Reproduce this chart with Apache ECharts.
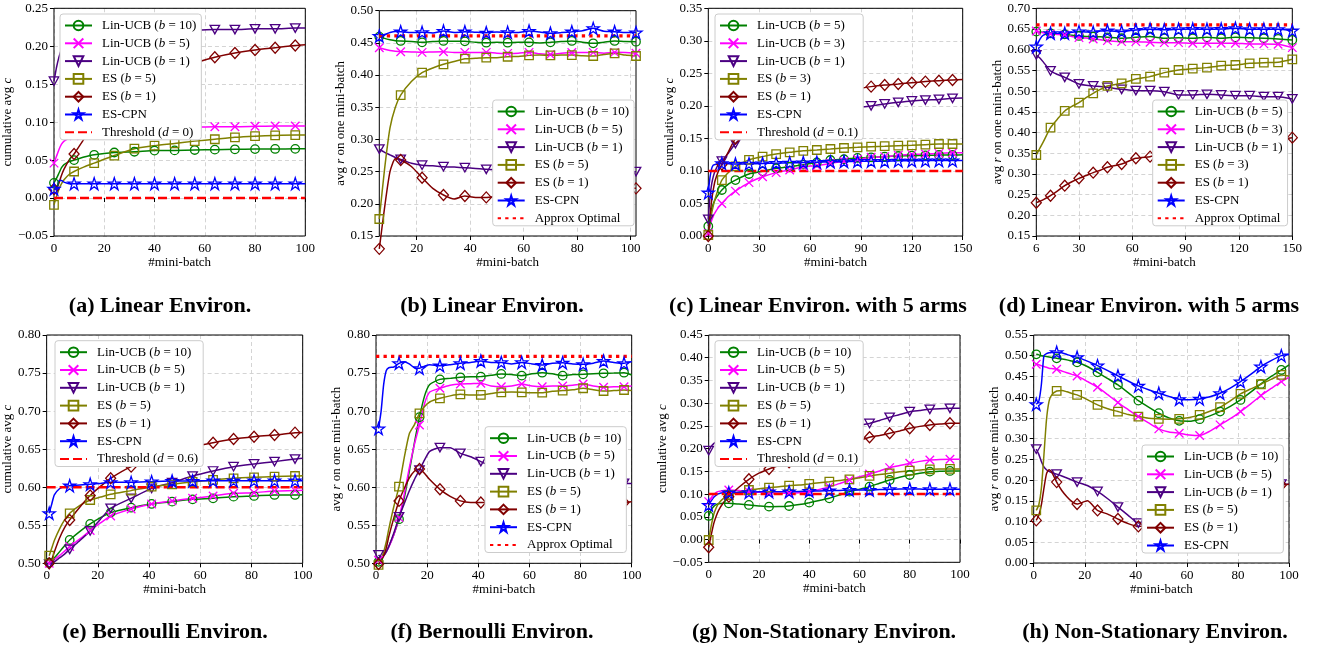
<!DOCTYPE html>
<html><head><meta charset="utf-8">
<script src="https://cdn.jsdelivr.net/npm/echarts@6/dist/echarts.min.js"></script>
<style>html,body{margin:0;padding:0;background:#fff}#c{width:1317px;height:649px}</style>
</head><body><div id="c"></div><script>
// ---------- DATA ----------
const A_X = [0,1,2,3,4,6,8,12,16,24,32,40,48,56,64,72,80,88,96,100];
const A_LIN10 = [0.020,0.026,0.033,0.040,0.044,0.048,0.050,0.054,0.057,0.060,0.061,0.0625,0.0628,0.0633,0.0638,0.0642,0.0645,0.0647,0.0648,0.0648];
const A_LIN5 = [0.046,0.055,0.064,0.071,0.075,0.079,0.082,0.086,0.088,0.090,0.0915,0.0925,0.093,0.0935,0.094,0.094,0.0945,0.095,0.095,0.095];
const A_LIN1 = [0.154,0.172,0.186,0.196,0.202,0.208,0.211,0.214,0.216,0.218,0.219,0.220,0.2205,0.221,0.222,0.222,0.223,0.223,0.224,0.224];
const A_ES5 = [-0.009,0.002,0.012,0.019,0.024,0.031,0.035,0.041,0.046,0.056,0.065,0.069,0.072,0.075,0.0775,0.080,0.0815,0.0825,0.083,0.083];
const A_ES1 = [0.012,0.012,0.020,0.030,0.038,0.050,0.058,0.078,0.095,0.122,0.142,0.157,0.169,0.178,0.1855,0.191,0.195,0.198,0.201,0.202];
const A_CPN = [0.012,0.012,0.023,0.023,0.021,0.019,0.019,0.019,0.019,0.019,0.019,0.019,0.019,0.019,0.019,0.019,0.019,0.019,0.019,0.019];
const A_THR = 0;

const B_X = [6,8,10,12,14,18,22,26,30,34,38,42,46,50,54,58,62,66,70,74,78,82,86,90,94,98,102];
const B_LIN10 = [0.4597,0.457,0.455,0.4535,0.453,0.452,0.4508,0.452,0.453,0.4525,0.4524,0.451,0.4503,0.451,0.4503,0.451,0.4508,0.450,0.4508,0.452,0.453,0.451,0.4493,0.451,0.453,0.452,0.4519];
const B_LIN5 = [0.4425,0.440,0.438,0.437,0.4363,0.436,0.4353,0.436,0.4363,0.435,0.4353,0.435,0.4353,0.434,0.4337,0.434,0.4353,0.433,0.432,0.434,0.435,0.435,0.4353,0.434,0.4353,0.435,0.434];
const B_LIN1 = [0.285,0.280,0.276,0.272,0.269,0.263,0.260,0.259,0.2577,0.257,0.2561,0.255,0.2536,0.253,0.2525,0.252,0.252,0.2515,0.251,0.251,0.2505,0.2505,0.250,0.250,0.250,0.250,0.250];
const B_ES5 = [0.1764,0.255,0.318,0.350,0.369,0.390,0.4037,0.411,0.4167,0.421,0.4254,0.426,0.427,0.427,0.4285,0.429,0.4306,0.431,0.4306,0.431,0.4311,0.430,0.4296,0.432,0.4337,0.431,0.4296];
const B_ES1 = [0.130,0.195,0.250,0.270,0.268,0.258,0.2406,0.224,0.2137,0.2075,0.2121,0.210,0.210,0.212,0.214,0.215,0.216,0.218,0.219,0.220,0.221,0.222,0.222,0.223,0.223,0.224,0.224];
const B_CPN = [0.4607,0.463,0.466,0.4675,0.4674,0.466,0.4664,0.4655,0.4684,0.466,0.4674,0.4665,0.4658,0.467,0.4664,0.466,0.4684,0.467,0.465,0.466,0.4674,0.469,0.4726,0.468,0.4674,0.466,0.466];
const B_OPT = 0.461;

const C_X = [0,1,2,3,4,6,8,12,16,24,32,40,48,56,64,72,80,88,96,104,112,120,128,136,144,150];
const C_LIN5 = [0.015,0.030,0.042,0.050,0.056,0.064,0.0707,0.080,0.086,0.0953,0.0994,0.104,0.1066,0.1097,0.113,0.1168,0.118,0.120,0.121,0.122,0.123,0.1235,0.124,0.1245,0.1245,0.125];
const C_LIN3 = [0.004,0.015,0.024,0.031,0.036,0.044,0.050,0.061,0.069,0.082,0.091,0.0974,0.1015,0.1066,0.108,0.1117,0.115,0.118,0.121,0.122,0.124,0.1255,0.126,0.127,0.128,0.128];
const C_LIN1 = [0.0256,0.060,0.080,0.092,0.100,0.110,0.115,0.128,0.142,0.160,0.170,0.177,0.183,0.188,0.191,0.194,0.196,0.198,0.200,0.203,0.2055,0.2076,0.209,0.210,0.2117,0.212];
const C_ES3 = [0.0015,0.020,0.035,0.047,0.057,0.073,0.086,0.098,0.107,0.117,0.122,0.126,0.1286,0.131,0.1322,0.1337,0.1353,0.1363,0.1373,0.138,0.1389,0.1394,0.1404,0.1414,0.1414,0.1415];
const C_ES1 = [0.000,0.030,0.055,0.072,0.085,0.100,0.110,0.130,0.150,0.168,0.182,0.192,0.200,0.207,0.213,0.218,0.222,0.226,0.2296,0.2321,0.2337,0.2357,0.2373,0.2388,0.2398,0.2405];
const C_CPN = [0.0666,0.090,0.104,0.109,0.110,0.111,0.1117,0.111,0.1107,0.111,0.1115,0.112,0.1125,0.113,0.1135,0.114,0.1145,0.115,0.115,0.115,0.1155,0.1155,0.116,0.116,0.116,0.116];
const C_THR = 0.1;

const D_X = [6,8,10,14,18,22,26,30,34,38,42,46,54,62,70,78,86,94,102,110,118,126,134,142,150];
const D_LIN5 = [0.6437,0.643,0.642,0.6396,0.638,0.6372,0.635,0.6332,0.632,0.6316,0.631,0.630,0.6276,0.630,0.6316,0.6276,0.629,0.6276,0.630,0.6276,0.630,0.629,0.6276,0.626,0.6235];
const D_LIN3 = [0.6453,0.643,0.641,0.638,0.637,0.6356,0.632,0.6292,0.628,0.626,0.624,0.622,0.6195,0.6195,0.618,0.617,0.617,0.6155,0.6155,0.6155,0.6155,0.614,0.614,0.613,0.605];
const D_LIN1 = [0.5873,0.580,0.570,0.5486,0.540,0.5333,0.525,0.5172,0.514,0.5124,0.511,0.5092,0.5043,0.5011,0.5011,0.4987,0.4907,0.4907,0.4923,0.4907,0.489,0.489,0.4866,0.4866,0.481];
const D_ES3 = [0.3457,0.362,0.378,0.4117,0.433,0.452,0.463,0.472,0.484,0.4947,0.504,0.5124,0.5188,0.5293,0.535,0.5446,0.551,0.5542,0.5567,0.5615,0.5631,0.5671,0.5687,0.5695,0.5768];
const D_ES1 = [0.2305,0.234,0.238,0.2474,0.259,0.2716,0.281,0.2893,0.296,0.303,0.309,0.3159,0.324,0.3376,0.3417,0.348,0.354,0.358,0.362,0.366,0.371,0.375,0.379,0.383,0.3876];
const D_CPN = [0.6074,0.625,0.635,0.6396,0.640,0.6396,0.642,0.6437,0.643,0.642,0.645,0.646,0.6437,0.6477,0.6493,0.648,0.6493,0.650,0.6493,0.650,0.6517,0.6493,0.6493,0.6493,0.646];
const D_OPT = 0.66;

const E_X = [1,2,3,5,7,9,13,17,21,25,33,41,49,57,65,73,81,89,97,100];
const E_LIN10 = [0.501,0.503,0.507,0.515,0.523,0.5307,0.542,0.5517,0.560,0.5666,0.5731,0.578,0.581,0.584,0.5854,0.5876,0.5885,0.5898,0.5898,0.590];
const E_LIN5 = [0.500,0.502,0.505,0.510,0.516,0.522,0.532,0.543,0.553,0.5622,0.5714,0.578,0.582,0.5854,0.5885,0.592,0.5928,0.595,0.5955,0.596];
const E_LIN1 = [0.499,0.500,0.502,0.507,0.512,0.5184,0.530,0.5425,0.558,0.5723,0.5854,0.5985,0.606,0.6147,0.6213,0.627,0.6305,0.6336,0.637,0.638];
const E_ES5 = [0.510,0.520,0.530,0.545,0.557,0.5657,0.576,0.5832,0.587,0.5906,0.5955,0.6007,0.6038,0.607,0.6095,0.6117,0.613,0.6139,0.6147,0.615];
const E_ES1 = [0.500,0.505,0.515,0.533,0.547,0.557,0.574,0.589,0.601,0.6117,0.627,0.637,0.645,0.653,0.6585,0.6634,0.6664,0.6686,0.6717,0.672];
const E_CPN = [0.5657,0.578,0.590,0.598,0.601,0.602,0.603,0.6038,0.605,0.6064,0.6064,0.6073,0.6082,0.6082,0.6086,0.6086,0.6086,0.6086,0.6086,0.6086];
const E_THR = 0.6;

const F_X = [1,2,3,4,5,7,9,11,13,15,17,19,21,25,29,33,37,41,45,49,53,57,61,65,69,73,77,81,85,89,93,97,100];
const F_LIN10 = [0.502,0.505,0.510,0.515,0.522,0.538,0.558,0.585,0.620,0.658,0.692,0.720,0.735,0.7417,0.743,0.7444,0.745,0.7453,0.747,0.7488,0.748,0.7466,0.749,0.7505,0.749,0.7466,0.748,0.7483,0.749,0.7497,0.750,0.7505,0.7475];
const F_LIN5 = [0.504,0.506,0.510,0.515,0.521,0.538,0.560,0.590,0.625,0.656,0.6817,0.710,0.725,0.730,0.734,0.7356,0.736,0.7365,0.733,0.7321,0.733,0.7356,0.733,0.7321,0.733,0.733,0.734,0.7356,0.733,0.7313,0.732,0.7321,0.733];
const F_LIN1 = [0.511,0.508,0.510,0.515,0.522,0.540,0.561,0.578,0.595,0.610,0.6226,0.636,0.647,0.652,0.652,0.6445,0.640,0.6336,0.628,0.624,0.620,0.617,0.614,0.612,0.611,0.610,0.609,0.608,0.607,0.606,0.605,0.605,0.605];
const F_ES5 = [0.498,0.505,0.515,0.528,0.545,0.575,0.6007,0.638,0.670,0.682,0.697,0.706,0.712,0.7168,0.720,0.722,0.721,0.7212,0.723,0.7247,0.725,0.7247,0.724,0.7242,0.726,0.727,0.728,0.730,0.728,0.7264,0.727,0.7277,0.727];
const F_ES1 = [0.499,0.503,0.510,0.520,0.535,0.560,0.582,0.598,0.612,0.621,0.624,0.618,0.610,0.5972,0.588,0.582,0.580,0.580,0.580,0.580,0.580,0.580,0.580,0.580,0.580,0.580,0.580,0.580,0.580,0.580,0.580,0.580,0.581];
const F_CPN = [0.677,0.700,0.735,0.753,0.757,0.758,0.7628,0.765,0.762,0.757,0.7562,0.759,0.761,0.7597,0.761,0.7628,0.764,0.7658,0.764,0.764,0.762,0.764,0.762,0.7606,0.763,0.7636,0.762,0.7615,0.763,0.7658,0.764,0.7628,0.765];
const F_OPT = 0.772;

const G_X = [0,1,2,3,4,6,8,12,16,20,24,28,32,36,40,44,48,52,56,60,64,68,72,76,80,84,88,92,96,100];
const G_LIN10 = [0.052,0.065,0.073,0.077,0.079,0.080,0.0798,0.078,0.0761,0.074,0.0724,0.0725,0.0739,0.077,0.0812,0.086,0.0908,0.098,0.1054,0.111,0.1164,0.124,0.1311,0.137,0.142,0.146,0.1494,0.1505,0.1509,0.151];
const G_LIN5 = [0.0834,0.092,0.099,0.104,0.106,0.108,0.109,0.108,0.1054,0.104,0.1032,0.102,0.1018,0.103,0.1054,0.110,0.1164,0.123,0.1311,0.138,0.1443,0.151,0.1582,0.163,0.1677,0.172,0.175,0.176,0.1765,0.1765];
const G_LIN1 = [0.1956,0.205,0.211,0.215,0.217,0.219,0.220,0.222,0.224,0.226,0.228,0.230,0.232,0.234,0.237,0.240,0.243,0.246,0.249,0.252,0.2555,0.262,0.269,0.275,0.2814,0.284,0.2865,0.288,0.2887,0.2887];
const G_ES5 = [-0.001,0.030,0.055,0.070,0.080,0.091,0.098,0.104,0.109,0.112,0.1142,0.116,0.1186,0.120,0.1223,0.125,0.1274,0.130,0.1326,0.136,0.1399,0.143,0.1457,0.149,0.1516,0.153,0.1545,0.155,0.1553,0.1555];
const G_ES1 = [-0.017,0.010,0.035,0.052,0.065,0.082,0.0944,0.115,0.1326,0.146,0.1553,0.163,0.170,0.178,0.185,0.192,0.198,0.205,0.212,0.218,0.225,0.229,0.2337,0.239,0.2447,0.249,0.252,0.254,0.2557,0.2557];
const G_CPN = [0.076,0.085,0.093,0.098,0.101,0.103,0.1032,0.104,0.104,0.105,0.1054,0.1054,0.1054,0.106,0.1069,0.107,0.1076,0.108,0.109,0.109,0.109,0.110,0.1106,0.111,0.1113,0.111,0.1106,0.1106,0.1106,0.1106];
const G_THR = 0.1;

const H_X = [1,2,3,4,5,6,7,9,11,13,15,17,21,25,29,33,37,41,45,49,53,57,61,65,69,73,77,81,85,89,93,97,100];
const H_LIN10 = [0.5034,0.502,0.500,0.499,0.498,0.497,0.496,0.4938,0.492,0.490,0.487,0.4842,0.474,0.460,0.445,0.4296,0.411,0.3918,0.376,0.3613,0.350,0.3429,0.342,0.3469,0.355,0.3653,0.378,0.3934,0.412,0.432,0.450,0.4657,0.4778];
const H_LIN5 = [0.4794,0.478,0.476,0.474,0.472,0.470,0.469,0.4673,0.463,0.459,0.455,0.4513,0.438,0.424,0.406,0.387,0.370,0.3533,0.338,0.3236,0.316,0.3131,0.309,0.3075,0.318,0.3332,0.348,0.3653,0.384,0.4039,0.421,0.4376,0.448];
const H_LIN1 = [0.2746,0.262,0.245,0.232,0.225,0.221,0.218,0.2144,0.210,0.205,0.200,0.1951,0.187,0.1726,0.155,0.1349,0.115,0.0964,0.100,0.110,0.120,0.130,0.140,0.150,0.158,0.165,0.171,0.177,0.181,0.185,0.188,0.190,0.190];
const H_ES5 = [0.1269,0.140,0.180,0.260,0.345,0.390,0.405,0.415,0.416,0.413,0.409,0.4055,0.394,0.3814,0.372,0.3653,0.358,0.3533,0.349,0.3477,0.347,0.3477,0.351,0.3573,0.366,0.3758,0.391,0.4079,0.420,0.4312,0.443,0.4537,0.451];
const H_ES1 = [0.1028,0.115,0.140,0.180,0.215,0.225,0.220,0.1951,0.175,0.160,0.148,0.1421,0.150,0.1269,0.118,0.106,0.095,0.0883,0.092,0.100,0.108,0.116,0.124,0.132,0.140,0.148,0.156,0.164,0.172,0.178,0.184,0.188,0.190];
const H_CPN = [0.383,0.390,0.430,0.500,0.505,0.507,0.508,0.5083,0.507,0.503,0.499,0.4962,0.487,0.4762,0.464,0.4513,0.439,0.4272,0.418,0.4095,0.402,0.395,0.394,0.3958,0.401,0.4095,0.422,0.4376,0.455,0.4737,0.488,0.5002,0.503];

const B_XTICKS = [20,40,60,80,100];
const D_XTICKS = [6,30,60,90,120,150];
const CAPTIONS = ['(a) Linear Environ.','(b) Linear Environ.','(c) Linear Environ. with 5 arms','(d) Linear Environ. with 5 arms',
                  '(e) Bernoulli Environ.','(f) Bernoulli Environ.','(g) Non-Stationary Environ.','(h) Non-Stationary Environ.'];

// ---------- STYLE / LAYOUT ----------
const STAR = 'path://M50,0L61.2,34.5L97.6,34.5L68.2,55.9L79.4,90.5L50,69.1L20.6,90.5L31.8,55.9L2.4,34.5L38.8,34.5Z';
const STY = [
  {color:'#008000', symbol:'circle', size:8.5},
  {color:'#ff00ff', symbol:'path://M0,0L10,10M10,0L0,10', size:8.5},
  {color:'#4b0082', symbol:'path://M0,0L10,0L5,8.66Z', size:[9.5,8.5]},
  {color:'#808000', symbol:'rect', size:8.5},
  {color:'#800000', symbol:'diamond', size:[10,11]},
  {color:'#0000ff', symbol:STAR, size:12},
  {color:'#ff0000', dash:[9,4], width:2.5},
  {color:'#ff0000', dash:[3.3,4.2], width:3.3}
];
const CR = 'c', RR = 'r';
const PANELS = [
 {key:'a', grid:[52.7,8.3,252.6,227.7], xr:[0,100], xint:20, yr:[-0.05,0.25], yvar:CR, xs:A_X, off:0, leg:[60,14], ygap:25, xgap:19,
  series:[['Lin-UCB (b = 10)',A_LIN10,0],['Lin-UCB (b = 5)',A_LIN5,1],['Lin-UCB (b = 1)',A_LIN1,2],['ES (b = 5)',A_ES5,3],['ES (b = 1)',A_ES1,4],['ES-CPN',A_CPN,5],['Threshold (d = 0)',A_THR,6]]},
 {key:'b', grid:[379.3,10.7,256.7,225.3], xr:[6,102], xticks:B_XTICKS, yr:[0.15,0.50], yvar:RR, xs:B_X, off:6, leg:[492.7,100], ygap:25.5, xgap:19,
  series:[['Lin-UCB (b = 10)',B_LIN10,0],['Lin-UCB (b = 5)',B_LIN5,1],['Lin-UCB (b = 1)',B_LIN1,2],['ES (b = 5)',B_ES5,3],['ES (b = 1)',B_ES1,4],['ES-CPN',B_CPN,5],['Approx Optimal',B_OPT,7]]},
 {key:'c', grid:[708.3,8.3,254.4,227.7], xr:[0,150], xint:30, yr:[0,0.35], yvar:CR, xs:C_X, off:0, leg:[715,14], ygap:24, xgap:19,
  series:[['Lin-UCB (b = 5)',C_LIN5,0],['Lin-UCB (b = 3)',C_LIN3,1],['Lin-UCB (b = 1)',C_LIN1,2],['ES (b = 3)',C_ES3,3],['ES (b = 1)',C_ES1,4],['ES-CPN',C_CPN,5],['Threshold (d = 0.1)',C_THR,6]]},
 {key:'d', grid:[1036.3,8.3,256,227.7], xr:[6,150], xticks:D_XTICKS, yr:[0.15,0.70], yvar:RR, xs:D_X, off:6, leg:[1152.7,100], ygap:25, xgap:19,
  series:[['Lin-UCB (b = 5)',D_LIN5,0],['Lin-UCB (b = 3)',D_LIN3,1],['Lin-UCB (b = 1)',D_LIN1,2],['ES (b = 3)',D_ES3,3],['ES (b = 1)',D_ES1,4],['ES-CPN',D_CPN,5],['Approx Optimal',D_OPT,7]]},
 {key:'e', grid:[46,335,256.7,228.3], xr:[0,100], xint:20, yr:[0.50,0.80], yvar:CR, xs:E_X, off:1, leg:[55,340.7], ygap:24.5, xgap:17,
  series:[['Lin-UCB (b = 10)',E_LIN10,0],['Lin-UCB (b = 5)',E_LIN5,1],['Lin-UCB (b = 1)',E_LIN1,2],['ES (b = 5)',E_ES5,3],['ES (b = 1)',E_ES1,4],['ES-CPN',E_CPN,5],['Threshold (d = 0.6)',E_THR,6]]},
 {key:'f', grid:[376,335,255.7,228.3], xr:[0,100], xint:20, yr:[0.50,0.80], yvar:RR, xs:F_X, off:1, leg:[485,426.7], ygap:22.5, xgap:17,
  series:[['Lin-UCB (b = 10)',F_LIN10,0],['Lin-UCB (b = 5)',F_LIN5,1],['Lin-UCB (b = 1)',F_LIN1,2],['ES (b = 5)',F_ES5,3],['ES (b = 1)',F_ES1,4],['ES-CPN',F_CPN,5],['Approx Optimal',F_OPT,7]]},
 {key:'g', grid:[708.7,335,251.3,227.3], xr:[0,100], xint:20, yr:[-0.05,0.45], yvar:CR, xs:G_X, off:0, leg:[715,340.7], ygap:25, xgap:17,
  series:[['Lin-UCB (b = 10)',G_LIN10,0],['Lin-UCB (b = 5)',G_LIN5,1],['Lin-UCB (b = 1)',G_LIN1,2],['ES (b = 5)',G_ES5,3],['ES (b = 1)',G_ES1,4],['ES-CPN',G_CPN,5],['Threshold (d = 0.1)',G_THR,6]]},
 {key:'h', grid:[1033.7,335,255.3,228], xr:[0,100], xint:20, yr:[0,0.55], yvar:RR, xs:H_X, off:1, leg:[1142,445], ygap:24, xgap:17,
  series:[['Lin-UCB (b = 10)',H_LIN10,0],['Lin-UCB (b = 5)',H_LIN5,1],['Lin-UCB (b = 1)',H_LIN1,2],['ES (b = 5)',H_ES5,3],['ES (b = 1)',H_ES1,4],['ES-CPN',H_CPN,5]]}
];
const CAP_POS = [[160,306],[492,306],[818,306],[1149,306],[165,632],[492,632],[824,632],[1155,632]];

const FONT = 'Liberation Serif';
const RICH = {
  t:{fontFamily:FONT, fontSize:13, color:'#000'},
  i:{fontFamily:FONT, fontSize:13, color:'#000', fontStyle:'italic'}
};
function legendFmt(n){
  const s = n.slice(2);
  const m = s.match(/^(.*\()([bd])( = .*\))$/);
  return m ? '{t|'+m[1]+'}{i|'+m[2]+'}{t|'+m[3]+'}' : '{t|'+s+'}';
}
function yFmt(v){
  if (Math.abs(v) < 1e-9) v = 0;
  return (v < 0 ? '\u2212' : '') + Math.abs(v).toFixed(2);
}

const grids = [], xAxes = [], yAxes = [], series = [], legends = [];
PANELS.forEach((p, pi) => {
  grids.push({left:p.grid[0], top:p.grid[1], width:p.grid[2], height:p.grid[3], show:true, borderColor:'#000', borderWidth:1, backgroundColor:'transparent', z:3});
  const axisLabelBase = {fontFamily:FONT, fontSize:13, color:'#000'};
  const split = {show:true, lineStyle:{color:'#cfcfcf', type:[4,3], width:0.9}};
  const xa = {type:'value', gridIndex:pi, min:p.xr[0], max:p.xr[1],
    axisLine:{show:false}, axisTick:{show:true, length:4, lineStyle:{color:'#000'}},
    axisLabel:Object.assign({margin:6}, axisLabelBase), splitLine:split,
    name:'#mini-batch', nameLocation:'middle', nameGap:p.xgap, nameTextStyle:{fontFamily:FONT, fontSize:13, color:'#000'}};
  if (p.xticks) { xa.axisTick.customValues = p.xticks; xa.axisLabel.customValues = p.xticks; }
  else xa.interval = p.xint;
  xAxes.push(xa);
  const yname = p.yvar === 'c' ? '{t|cumulative avg }{i|c}' : '{t|avg }{i|r}{t| on one mini-batch}';
  yAxes.push({type:'value', gridIndex:pi, min:p.yr[0], max:p.yr[1], interval:0.05,
    axisLine:{show:false}, axisTick:{show:true, length:4, lineStyle:{color:'#000'}},
    axisLabel:Object.assign({margin:6, formatter:yFmt}, axisLabelBase), splitLine:split,
    name:yname, nameLocation:'middle', nameGap:p.ygap, nameTextStyle:{rich:RICH}});
  const names = [];
  p.series.forEach(([label, ys, kind]) => {
    const st = STY[kind];
    const name = p.key + ':' + label;
    names.push(name);
    if (kind >= 6) {
      series.push({type:'line', name, xAxisIndex:pi, yAxisIndex:pi, symbol:'circle', symbolSize:1, showSymbol:false,
        data:[[p.xr[0], ys],[p.xr[1], ys]],
        lineStyle:{color:st.color, width:st.width, type:st.dash, cap:'butt'},
        itemStyle:{color:'rgba(0,0,0,0)', borderColor:'rgba(0,0,0,0)', borderWidth:0},
        silent:true, animation:false, z:3});
    } else {
      const data = p.xs.map((x, i) => ({value:[x, ys[i]], symbol: ((x - p.off) % 8 === 0) ? st.symbol : 'none'}));
      series.push({type:'line', name, xAxisIndex:pi, yAxisIndex:pi, smooth:0.2,
        symbol:st.symbol, symbolSize:st.size, showSymbol:true, showAllSymbol:true, data,
        lineStyle:{color:st.color, width:1.5},
        itemStyle:{color:'rgba(255,255,255,0)', borderColor:st.color, borderWidth:1.3},
        emphasis:{disabled:true}, silent:true, animation:false, clip:false});
    }
  });
  legends.push({data:names, orient:'vertical', left:p.leg[0], top:p.leg[1],
    itemWidth:27, itemHeight:12, itemGap:4.8, padding:[5,5,1,4],
    backgroundColor:'#ffffff', borderColor:'#cccccc', borderWidth:1, borderRadius:3,
    selectedMode:false, formatter:legendFmt, textStyle:{rich:RICH, padding:[0,0,0,5]}});
});

const graphics = CAPTIONS.map((t, i) => ({type:'text', x:CAP_POS[i][0], y:CAP_POS[i][1],
  style:{text:t, font:'bold 22px "Liberation Serif"', fill:'#000', align:'center', verticalAlign:'middle'}}));

const chart = echarts.init(document.getElementById('c'), null, {renderer:'canvas'});
chart.setOption({
  backgroundColor:'#fff', animation:false,
  grid:grids, xAxis:xAxes, yAxis:yAxes, series, legend:legends, graphic:graphics
});
</script></body></html>
